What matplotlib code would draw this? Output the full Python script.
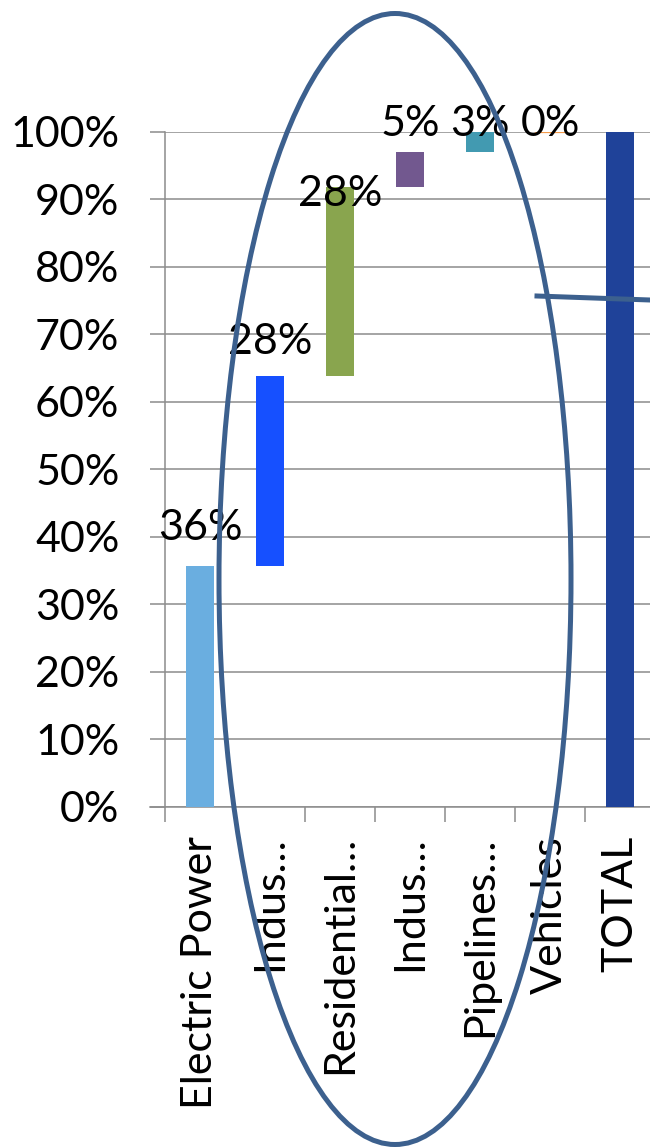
import matplotlib.pyplot as plt
from matplotlib.patches import Ellipse
from matplotlib.lines import Line2D
from matplotlib.ticker import FuncFormatter, MultipleLocator

plt.rcParams['font.family'] = ['Lato', 'DejaVu Sans']

# share of total per sector (waterfall), last column is the total
categories = ['Electric Power', 'Indus…', 'Residential…', 'Indus…', 'Pipelines…', 'Vehicles', 'TOTAL']
shares = [0.357, 0.281, 0.280, 0.052, 0.030, 0.0]
total = 1.0
colors = ['#6AAEE0', '#1650FF', '#89A54E', '#72588F', '#429AB1', '#F39A4A', '#1F4299']

fig = plt.figure(figsize=(6.5, 11.47), dpi=100)
ax = fig.add_axes([165 / 650, 340 / 1147, 490 / 650, 675.5 / 1147])

bottoms = []
run = 0.0
for s in shares:
    bottoms.append(run)
    run += s

x = list(range(len(categories)))
w = 0.41
for i, (s, b) in enumerate(zip(shares, bottoms)):
    if s == 0:
        ax.plot([i - w / 2, i + w / 2], [b, b], color=colors[i], lw=1.6, zorder=3)
    else:
        ax.bar(i, s, bottom=b, width=w, color=colors[i], zorder=3)
ax.bar(len(shares), total, width=w, color=colors[-1], zorder=3)

# value labels, nudged in points above/below each bar top
label_dy = [27, 24.5, -5, 20, 5.4, 5.4]
for i, (s, b) in enumerate(zip(shares, bottoms)):
    ax.annotate(f'{s:.0%}', (i, b + s), xytext=(0, label_dy[i]), textcoords='offset points',
                ha='center', va='center', fontsize=31, zorder=4)

ax.set_xlim(-0.5, 6.5)
ax.set_ylim(0, 1.0)
ax.yaxis.set_major_locator(MultipleLocator(0.1))
ax.yaxis.set_major_formatter(FuncFormatter(lambda v, p: f'{v:.0%}'))
ax.grid(axis='y', color='#8C8C8C', lw=1.1, zorder=0)
ax.set_axisbelow(True)

for side in ['top', 'right']:
    ax.spines[side].set_visible(False)
for side in ['left', 'bottom']:
    ax.spines[side].set_color('#8C8C8C')
    ax.spines[side].set_linewidth(1.1)
ax.spines['bottom'].set_bounds(-0.71, 6.5)

ax.tick_params(axis='y', length=10.8, width=1.1, color='#8C8C8C', pad=22, labelsize=31)
ax.set_xticks(x)
ax.set_xticklabels(categories, rotation=90, fontsize=31)
ax.tick_params(axis='x', length=0, pad=21)
ax.set_xticks([i - 0.5 for i in range(8)], minor=True)
ax.tick_params(axis='x', which='minor', length=10.8, width=1.1, color='#8C8C8C')

# outline around the middle sectors plus the connector line
oval = Ellipse((395 / 650, 1 - 579 / 1147), 352 / 650, 1131 / 1147, transform=fig.transFigure,
               fill=False, edgecolor='#3C608E', lw=3.6, zorder=10)
fig.patches.append(oval)
fig.lines.append(Line2D([537 / 650, 1.0], [1 - 296 / 1147, 1 - 300 / 1147], transform=fig.transFigure,
                        color='#3C608E', lw=3.6, zorder=10))

fig.savefig('out.png', dpi=100)
